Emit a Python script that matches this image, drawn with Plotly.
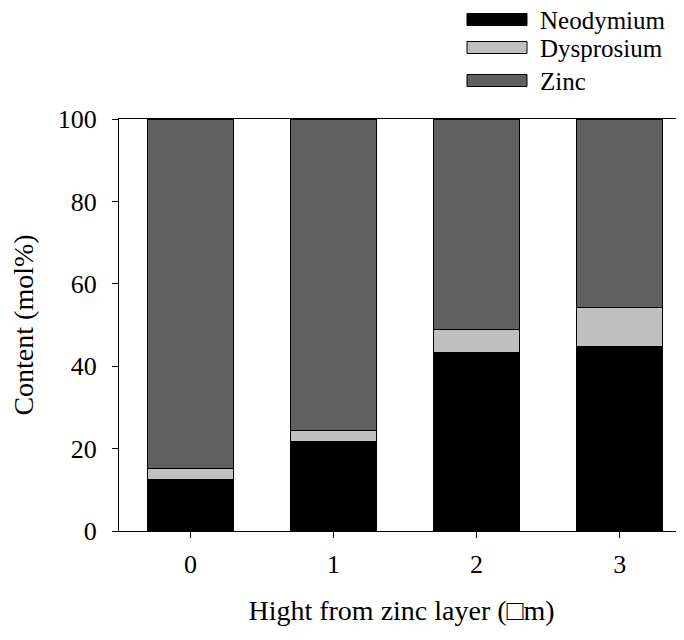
import plotly.graph_objects as go

categories = ["0", "1", "2", "3"]
x_pos = [0, 1, 2, 3]
neodymium = [12.5, 21.7, 43.4, 44.7]
dysprosium = [2.7, 2.8, 5.4, 9.6]
zinc = [84.8, 75.5, 51.2, 45.7]
y_ticks = [0, 20, 40, 60, 80, 100]

series = [("Neodymium", neodymium, "#000000"),
          ("Dysprosium", dysprosium, "#c0c0c0"),
          ("Zinc", zinc, "#606060")]

FONT = "Liberation Serif"
OFF = 8  # page body margin

fig = go.Figure()
for name, vals, col in series:
    fig.add_trace(go.Bar(x=x_pos, y=vals, name=name, width=0.6,
                         marker=dict(color=col, line=dict(color="#000000", width=1)),
                         showlegend=False))

W, H = 684 - OFF, 640 - OFF
L, R, T, B = 119 - OFF, 0, 119 - OFF, 109
pw, ph = W - L - R, H - T - B

def px(x):
    return (x - OFF - L) / pw

def py(y):
    return (H - B - (y - OFF)) / ph

# manual legend (page pixel positions)
legend_rows = [(19.5, "Neodymium", "#000000"), (47.5, "Dysprosium", "#c0c0c0"), (80.5, "Zinc", "#606060")]
for cy, name, col in legend_rows:
    fig.add_shape(type="rect", xref="paper", yref="paper",
                  x0=px(467), x1=px(527), y0=py(cy - 6), y1=py(cy + 6),
                  fillcolor=col, line=dict(color="#000000", width=1))
    fig.add_annotation(xref="paper", yref="paper", x=px(538), y=py(cy + 1),
                       text=name, showarrow=False, xanchor="left", yanchor="middle",
                       font=dict(family=FONT, size=25, color="#000000"))

fig.update_layout(
    width=W, height=H,
    margin=dict(l=L, r=R, t=T, b=B),
    barmode="stack",
    plot_bgcolor="white", paper_bgcolor="white",
    font=dict(family=FONT, size=26, color="#000000"),
    xaxis=dict(range=[-0.5, 3.45], tickvals=x_pos, ticktext=categories,
               showline=True, linecolor="#000000", linewidth=1, mirror=True,
               ticks="outside", ticklen=6, tickcolor="#000000", showgrid=False,
               zeroline=False, tickfont=dict(family=FONT, size=26),
               ticklabelstandoff=4,
               title=dict(text="Hight from zinc layer (\u25a1m)",
                          font=dict(family=FONT, size=28), standoff=22)),
    yaxis=dict(range=[0, 100], tickvals=y_ticks,
               showline=True, linecolor="#000000", linewidth=1,
               ticks="outside", ticklen=6, tickcolor="#000000", showgrid=False,
               zeroline=False, tickfont=dict(family=FONT, size=26),
               ticklabelstandoff=10,
               title=dict(text="Content (mol%)", font=dict(family=FONT, size=28), standoff=17)),
)

fig.write_html("out.html")
